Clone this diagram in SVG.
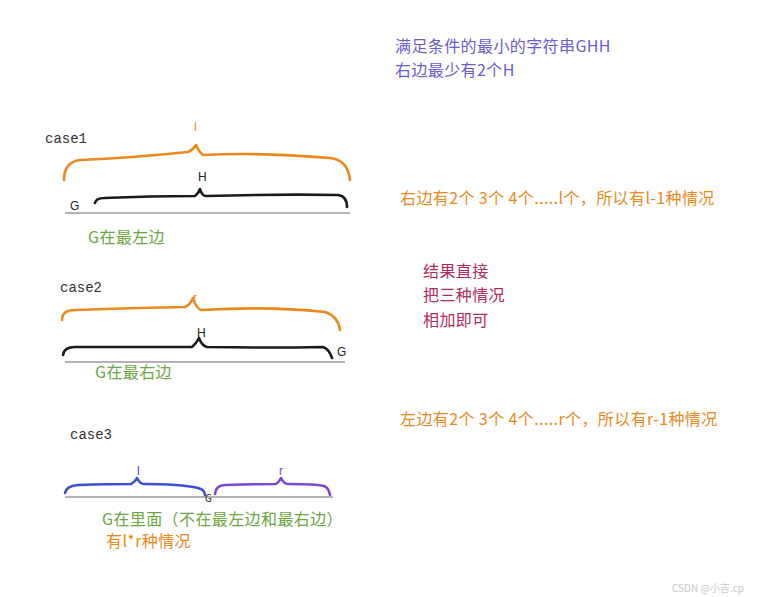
<svg xmlns="http://www.w3.org/2000/svg" width="772" height="597" viewBox="0 0 772 597">
<style>
text{font-family:"Noto Sans CJK SC","Liberation Sans",sans-serif;}
.t{font-size:16px;letter-spacing:0.4px;}
.case{font-size:14px;fill:#333;font-family:"Liberation Mono",monospace;}
.purple{fill:#6d5bd0;}
.orange{fill:#e8891c;}
.green{fill:#6aa641;}
.crimson{fill:#b02a5e;}
.blk{fill:#222;}
.br{fill:none;stroke-width:2.6;stroke-linecap:round;stroke-linejoin:round;}
.base{stroke:#9a9a9a;stroke-width:1.5;fill:none;}
.lab{font-size:12px;font-family:"Liberation Sans",sans-serif;}
</style>
<rect width="772" height="597" fill="#fff"/>
<g id="title">
<text class="t purple" x="395" y="52">满足条件的最小的字符串GHH</text>
<text class="t purple" x="395" y="76">右边最少有2个H</text>
</g>
<g id="case1">
<text class="case" x="45" y="143">case1</text>
<text class="lab orange" x="194" y="131">l</text>
<path class="br" stroke="#ea8a1e" d="M64,180 Q64,162 80,160 Q130,158 188,152 Q193,150 196,145 Q199,152 203,155 Q260,152 330,158 Q348,160 350,180"/>
<text class="lab blk" x="198" y="181">H</text>
<path class="br" stroke="#1a1a1a" d="M95,203 Q96,198 104,198 Q150,196 195,196 Q198,194 200,189 Q202,196 206,196 Q280,194 338,195 Q347,196 347,207"/>
<text class="lab blk" x="70" y="210">G</text>
<path class="base" d="M65,213 H350"/>
<text class="t green" x="88" y="243">G在最左边</text>
<text class="t orange" x="400" y="204">右边有2个 3个 4个.....l个，所以有l-1种情况</text>
</g>
<g id="summary">
<text class="t crimson" x="423" y="277">结果直接</text>
<text class="t crimson" x="423" y="301">把三种情况</text>
<text class="t crimson" x="423" y="326">相加即可</text>
</g>
<g id="case2">
<text class="case" x="60" y="292">case2</text>
<text class="lab orange" x="193" y="302">r</text>
<path class="br" stroke="#ea8a1e" d="M62,320 Q62,310 75,310 Q130,308 185,307 Q190,305 193,298 Q196,308 201,310 Q270,306 325,312 Q338,316 340,330"/>
<text class="lab blk" x="197" y="337">H</text>
<path class="br" stroke="#1a1a1a" d="M63,355 Q64,347 75,347 Q140,347 192,347 Q196,344 199,338 Q202,346 207,347 Q270,348 323,347 Q329,349 332,358"/>
<text class="lab blk" x="337" y="356">G</text>
<path class="base" d="M65,362 H345"/>
<text class="t green" x="95" y="378">G在最右边</text>
<text class="t orange" x="400" y="425">左边有2个 3个 4个.....r个，所以有r-1种情况</text>
</g>
<g id="case3">
<text class="case" x="70" y="439">case3</text>
<text class="lab" x="137" y="475" fill="#3d4ed6">l</text>
<path class="br" stroke="#3d4ed6" d="M65,493 Q66,486 78,485 Q110,484 131,484 Q135,482 137,478 Q140,484 144,484 Q180,484 198,488 Q205,490 205,495"/>
<text class="lab" x="279" y="475" fill="#7a48d6">r</text>
<path class="br" stroke="#7a48d6" d="M215,494 Q216,485 225,485 Q255,484 276,484 Q279,482 281,478 Q284,484 288,484 Q315,484 324,486 Q329,488 330,495"/>
<path class="base" d="M65,497 H333"/>
<text x="205" y="502" font-size="10" font-family="Liberation Sans,sans-serif" fill="#222">G</text>
<text class="t green" x="102" y="525">G在里面（不在最左边和最右边）</text>
<text class="t orange" x="106" y="547">有l*r种情况</text>
</g>
<text x="672" y="592" font-size="10" fill="#c8c8c8">CSDN @小吉.cp</text>
</svg>
